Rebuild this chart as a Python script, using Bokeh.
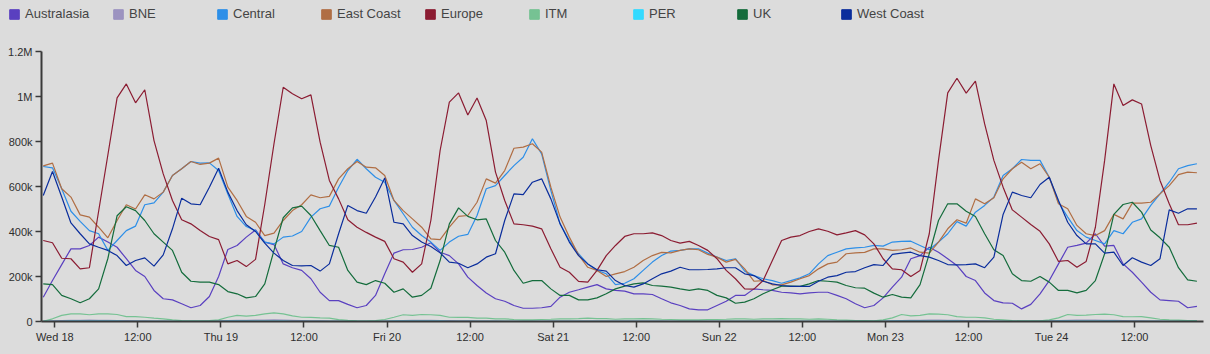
from bokeh.plotting import figure
from bokeh.models import Range1d, FixedTicker, Legend, LegendItem
from bokeh.layouts import column
from bokeh.embed import file_html
from bokeh.resources import INLINE

# ---- data -------------------------------------------------------------
series_names = ["Australasia", "BNE", "Central", "East Coast", "Europe",
                "ITM", "PER", "UK", "West Coast"]
series_colors = ["#5a40c0", "#9c93c0", "#2d8fe8", "#b06e44", "#8b1c32",
                 "#76c293", "#33daff", "#146c3c", "#0a2d9c"]

# sample times: hours relative to Wed 18 00:00, one sample every 80 minutes
first_sample_hour = -5 / 3
sample_step_hour = 4 / 3
n_samples = 126
hours = [first_sample_hour + sample_step_hour * i for i in range(n_samples)]

# values in thousands
australasia = [108, 182, 253, 323, 323, 338, 375, 353, 330, 279,
               227, 200, 138, 101, 96, 79, 61, 71, 111, 200,
               320, 338, 375, 407, 353, 342, 256, 239, 227, 190,
               130, 93, 93, 76, 61, 71, 116, 212, 304,
               319, 320, 330, 350, 308, 293, 256, 197, 160, 127,
               101, 90, 71, 59, 59, 61, 67, 108, 130, 141,
               153, 164, 145, 138, 135, 123, 123, 120, 101, 83,
               71, 56, 52, 52, 71, 90, 116, 116, 145, 141,
               138, 130, 127, 123,
               127, 130, 130, 116, 101, 79, 61, 71, 105, 153,
               197, 279, 293, 330, 308, 279, 249, 200, 182, 127,
               93, 83, 81, 56, 76, 123, 182, 256, 330, 338,
               348, 390, 335, 338, 256, 219, 175, 130, 96, 93,
               90, 61, 67]
bne = [2, 3, 4, 5, 5, 6, 5, 5, 4, 4,
       3, 3, 2, 2, 1, 1, 1, 1, 2, 3,
       4, 5, 5, 6, 6, 7, 6, 5, 4, 3,
       3, 2, 2, 1, 1, 1, 1, 2, 3,
       4, 5, 5, 5, 4, 4, 3, 3, 2, 2,
       2, 1, 1, 1, 1, 1, 2, 2, 2, 2,
       2, 2, 2, 2, 2, 2, 2, 2, 2, 1,
       1, 1, 1, 1, 1, 1, 1, 1, 1, 1,
       1, 1, 1, 1,
       1, 1, 1, 1, 1, 1, 1, 1, 2, 3,
       4, 5, 5, 6, 6, 5, 5, 4, 3, 3,
       2, 2, 1, 1, 1, 2, 3, 4, 5, 6,
       6, 6, 5, 5, 4, 3, 3, 2, 2, 1,
       1, 1, 1]
central = [689, 683, 590, 490, 445, 404, 390, 316, 360, 404,
           424, 519, 527, 575, 649, 679, 711, 704, 705, 671,
           567, 467, 422, 404, 353, 345, 375, 380, 400, 464,
           501, 513, 597, 671, 721, 679, 641, 619, 538,
           479, 419, 382, 353, 316, 353, 379, 387, 471, 590,
           604, 649, 693, 730, 812, 745, 582, 434, 360, 301,
           256, 227, 212, 164, 170, 190, 227, 264, 293, 313,
           316, 323, 323, 304, 286, 271, 279, 224, 204, 190,
           182, 170, 182, 194,
           212, 256, 293, 308, 323, 327, 330, 338, 335, 353,
           356, 357, 338, 319, 353, 390, 444, 424, 486, 516,
           553, 649, 679, 720, 716, 716, 641, 530, 464, 404,
           375, 360, 345, 404, 390, 441, 456, 516, 567, 619,
           679, 693, 701]
east_coast = [692, 704, 590, 553, 474, 464, 419, 372, 449, 519,
              500, 563, 545, 575, 649, 679, 711, 698, 704, 726,
              597, 538, 467, 441, 382, 393, 449, 493, 519, 563,
              550, 556, 634, 679, 711, 686, 683, 649, 538,
              493, 456, 419, 367, 364, 419, 467, 471, 530, 634,
              615, 671, 770, 775, 790, 753, 597, 464, 375, 296,
              241, 227, 200, 212, 222, 241, 271, 293, 307, 305,
              316, 323, 319, 298, 286, 264, 276, 234, 179, 182,
              163, 163, 175, 190,
              204, 234, 256, 264, 301, 305, 307, 323, 323, 316,
              319, 327, 308, 304, 353, 412, 452, 437, 545, 523,
              550, 634, 679, 708, 679, 701, 641, 523, 501, 427,
              390, 382, 404, 476, 456, 526, 526, 530, 567, 604,
              653, 664, 661]
europe = [360, 350, 281, 279, 234, 239, 490, 740, 994, 1056,
          972, 1030, 804, 656, 538, 452, 434, 404, 378, 364,
          256, 271, 244, 276, 520, 790, 1041, 1012, 990, 1007,
          797, 627, 545, 452, 419, 396, 375, 356, 279,
          264, 219, 256, 450, 760, 975, 1016, 918, 993, 893,
          664, 538, 434, 430, 424, 412, 323, 241, 219, 178,
          175, 227, 293, 338, 378, 390, 390, 394, 382, 360,
          348, 356, 338, 316, 279, 227, 190, 145, 144, 182,
          271, 360, 375, 382,
          400, 412, 401, 385, 394, 404, 385, 345, 279, 234,
          230, 200, 227, 390, 716, 1016, 1081, 1015, 1068, 878,
          716, 597, 496, 464, 431, 401, 345, 267, 271, 241,
          267, 419, 716, 1056, 960, 985, 967, 782, 627, 523,
          430, 430, 437]
itm = [1, 12, 27, 34, 34, 30, 34, 34, 31, 22,
       22, 19, 15, 12, 7, 4, 3, 3, 4, 7,
       19, 27, 24, 27, 34, 38, 34, 25, 19, 18,
       16, 15, 8, 5, 3, 2, 4, 9, 19,
       30, 27, 31, 30, 27, 19, 18, 18, 15, 15,
       12, 12, 9, 7, 7, 9, 10, 12, 12, 13,
       15, 13, 13, 10, 12, 12, 13, 12, 10, 9,
       7, 7, 7, 9, 9, 10, 12, 12, 10, 12,
       12, 13, 12, 12,
       10, 12, 10, 7, 6, 4, 4, 3, 7, 16,
       31, 25, 27, 34, 33, 30, 22, 19, 19, 16,
       10, 7, 4, 3, 3, 3, 7, 16, 31, 27,
       28, 31, 33, 30, 22, 21, 22, 16, 10, 7,
       6, 4, 4]
per = [1, 1, 1, 2, 2, 2, 2, 2, 2, 1,
       1, 1, 1, 1, 1, 1, 1, 1, 1, 1,
       2, 2, 2, 2, 2, 2, 2, 1, 1, 1,
       1, 1, 1, 1, 1, 1, 1, 1, 2,
       2, 2, 2, 2, 2, 1, 1, 1, 1, 1,
       1, 1, 1, 1, 1, 1, 1, 1, 1, 1,
       1, 1, 1, 1, 1, 1, 1, 1, 1, 1,
       1, 1, 1, 1, 1, 1, 1, 1, 1, 1,
       1, 1, 1, 1,
       1, 1, 1, 1, 1, 1, 1, 1, 1, 2,
       2, 2, 2, 2, 2, 2, 2, 1, 1, 1,
       1, 1, 1, 1, 1, 1, 1, 2, 2, 2,
       2, 2, 2, 2, 1, 1, 1, 1, 1, 1,
       1, 1, 1]
uk = [167, 164, 116, 101, 83, 101, 145, 280, 470, 510,
      493, 449, 390, 353, 316, 219, 179, 175, 175, 164,
      133, 123, 105, 111, 167, 316, 461, 505, 513, 471,
      404, 338, 330, 227, 175, 164, 182, 170, 130,
      145, 108, 116, 148, 271, 434, 505, 467, 452, 456,
      360, 308, 227, 170, 182, 182, 145, 116, 116, 96,
      96, 105, 123, 145, 157, 167, 172, 160, 157, 153,
      145, 138, 145, 138, 116, 105, 81, 86, 101, 123,
      141, 157, 157, 156,
      167, 182, 179, 175, 160, 150, 148, 126, 108, 120,
      108, 105, 164, 301, 449, 523, 523, 490, 467, 390,
      319, 293, 212, 182, 179, 200, 175, 138, 138, 127,
      138, 182, 301, 476, 520, 530, 486, 407, 372, 330,
      239, 185, 179]
west_coast = [560, 667, 553, 438, 390, 345, 330, 316, 293, 249,
              271, 283, 246, 296, 412, 548, 523, 519, 597, 681,
              575, 493, 430, 400, 348, 304, 271, 249, 247, 249,
              224, 256, 390, 516, 493, 481, 553, 638, 441,
              434, 382, 353, 333, 305, 264, 259, 239, 256, 286,
              301, 449, 567, 564, 619, 634, 545, 434, 353, 293,
              256, 230, 224, 182, 160, 153, 167, 190, 212, 224,
              241, 230, 230, 231, 234, 239, 239, 212, 204, 179,
              167, 160, 156, 156,
              156, 179, 197, 204, 219, 222, 239, 253, 249, 298,
              304, 308, 293, 286, 271, 253, 252, 253, 256, 239,
              286, 476, 575, 560, 550, 609, 641, 538, 441, 382,
              345, 345, 304, 308, 249, 283, 264, 249, 279, 496,
              481, 501, 501]

series_values = [australasia, bne, central, east_coast, europe,
                 itm, per, uk, west_coast]

x_tick_hours = [0, 12, 24, 36, 48, 60, 72, 84, 96, 108, 120, 132, 144, 156]
x_tick_labels = ["Wed 18", "12:00", "Thu 19", "12:00", "Fri 20", "12:00",
                 "Sat 21", "12:00", "Sun 22", "12:00", "Mon 23", "12:00",
                 "Tue 24", "12:00"]
y_tick_values = [0, 200000, 400000, 600000, 800000, 1000000, 1200000]
y_tick_labels = ["0", "200k", "400k", "600k", "800k", "1M", "1.2M"]

# ---- style -----------------------------------------------------------
BG = "#dcdcdc"
AXIS = "#3a3a3a"
FONT = "Liberation Sans"

# ---- legend strip ----------------------------------------------------
# the strip's visible window lies after the last sample, so the swatch
# sources below never appear as marks; only the legend shows them
lg = figure(width=1210, height=30, output_backend="svg", toolbar_location=None,
            x_range=Range1d(hours[-1] + 10, hours[-1] + 20), y_range=Range1d(0, 1),
            x_axis_type=None, y_axis_type=None,
            min_border_left=0, min_border_right=0, min_border_top=0,
            min_border_bottom=0)
lg.frame_align = False
lg.background_fill_color = BG
lg.border_fill_color = BG
lg.outline_line_color = None
lg.grid.visible = False

legend_items = []
for name, color, vals in zip(series_names, series_colors, series_values):
    r = lg.quad(left=[hours[0]], right=[hours[1]], top=[vals[0]], bottom=[0],
                fill_color=color, line_color=color, line_width=1)
    legend_items.append(LegendItem(label=name, renderers=[r]))

legend = Legend(items=legend_items, orientation="horizontal",
                location=(8, 9), glyph_width=12, glyph_height=12,
                label_standoff=5, label_width=81, spacing=6, padding=0,
                margin=0, border_line_color=None, background_fill_alpha=0,
                label_text_font=FONT, label_text_font_size="13px",
                label_text_color="#444444", label_height=12)
lg.add_layout(legend)

# ---- main chart ------------------------------------------------------
p = figure(width=1210, height=324, output_backend="svg", toolbar_location=None,
           x_range=Range1d(-1.92, 165.95), y_range=Range1d(0, 1200000),
           min_border_left=41, min_border_right=7, min_border_top=21,
           min_border_bottom=33)
p.frame_align = False
p.background_fill_color = BG
p.border_fill_color = BG
p.outline_line_color = None
p.grid.visible = False

for name, color, vals in zip(series_names, series_colors, series_values):
    p.line(hours, [v * 1000 for v in vals], line_color=color, line_width=1.2)

for ax in (p.xaxis[0], p.yaxis[0]):
    ax.axis_line_color = AXIS
    ax.axis_line_width = 2
    ax.major_tick_line_color = AXIS
    ax.major_tick_line_width = 1.5
    ax.major_tick_out = 6
    ax.major_tick_in = 0
    ax.minor_tick_line_color = None
    ax.major_label_text_font = FONT
    ax.major_label_text_font_size = "11px"
    ax.major_label_text_color = "#2e2e2e"
    ax.major_label_standoff = 3

p.xaxis.ticker = FixedTicker(ticks=x_tick_hours)
p.xaxis.major_label_overrides = dict(zip(x_tick_hours, x_tick_labels))
p.yaxis.ticker = FixedTicker(ticks=y_tick_values)
p.yaxis.major_label_overrides = dict(zip(y_tick_values, y_tick_labels))

layout = column(lg, p, spacing=0, styles={"background-color": BG})
open("out.html", "w").write(file_html(layout, INLINE))
